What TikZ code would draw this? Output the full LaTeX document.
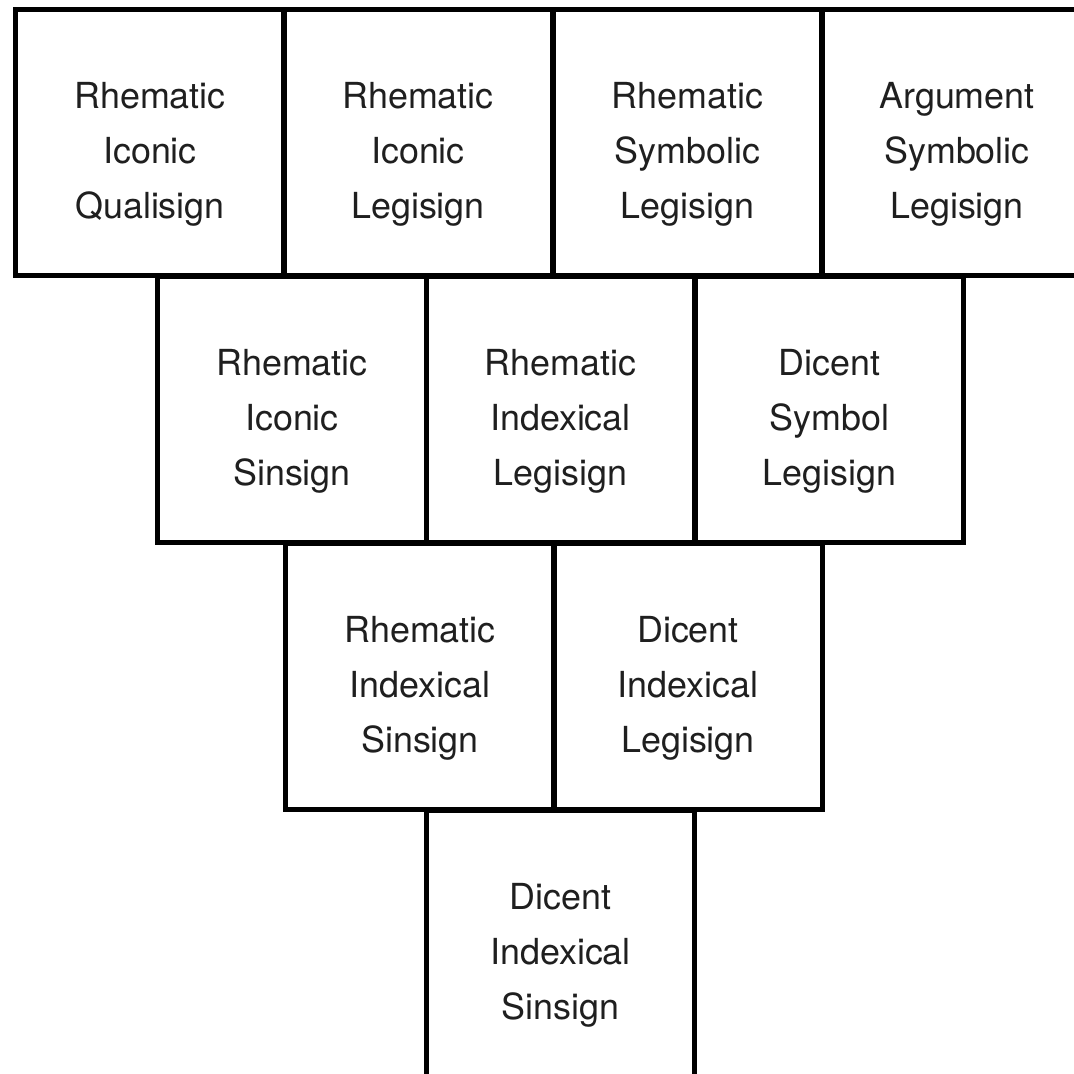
\documentclass[tikz,border=0pt]{standalone}
\usepackage{fontspec}
\setmainfont{TeX Gyre Heros}
\usepackage{tikz}

\begin{document}
\begin{tikzpicture}[x=1bp, y=-1bp,
    every node/.style={draw, line width=5bp, minimum width=268.5bp, minimum height=266bp,
      inner sep=0pt, align=center, text height=152bp, text depth=0bp, text=black!88,
      font=\fontsize{36}{55}\selectfont}]
    \useasboundingbox (0,0) rectangle (1074,1074);
    % first row
    \node (RIQ) at (150, 142) {Rhematic\\Iconic\\Qualisign};
    \node (RIL) at (418, 142) {Rhematic\\Iconic\\Legisign};
    \node (RSL) at (687.5, 142) {Rhematic\\Symbolic\\Legisign};
    \node (ASL) at (957, 142) {Argument\\Symbolic\\Legisign};
    % second row
    \node (RIS) at (292, 409) {Rhematic\\Iconic\\Sinsign};
    \node (RXL) at (560.5, 409) {Rhematic\\Indexical\\Legisign};
    \node (DSL) at (829.5, 409) {Dicent\\Symbol\\Legisign};
    % third row
    \node (RXS) at (420, 676) {Rhematic\\Indexical\\Sinsign};
    \node (DXL) at (688, 676) {Dicent\\Indexical\\Legisign};
    % last row
    \node (DXS) at (560.5, 943) {Dicent\\Indexical\\Sinsign};
  \end{tikzpicture}
\end{document}
